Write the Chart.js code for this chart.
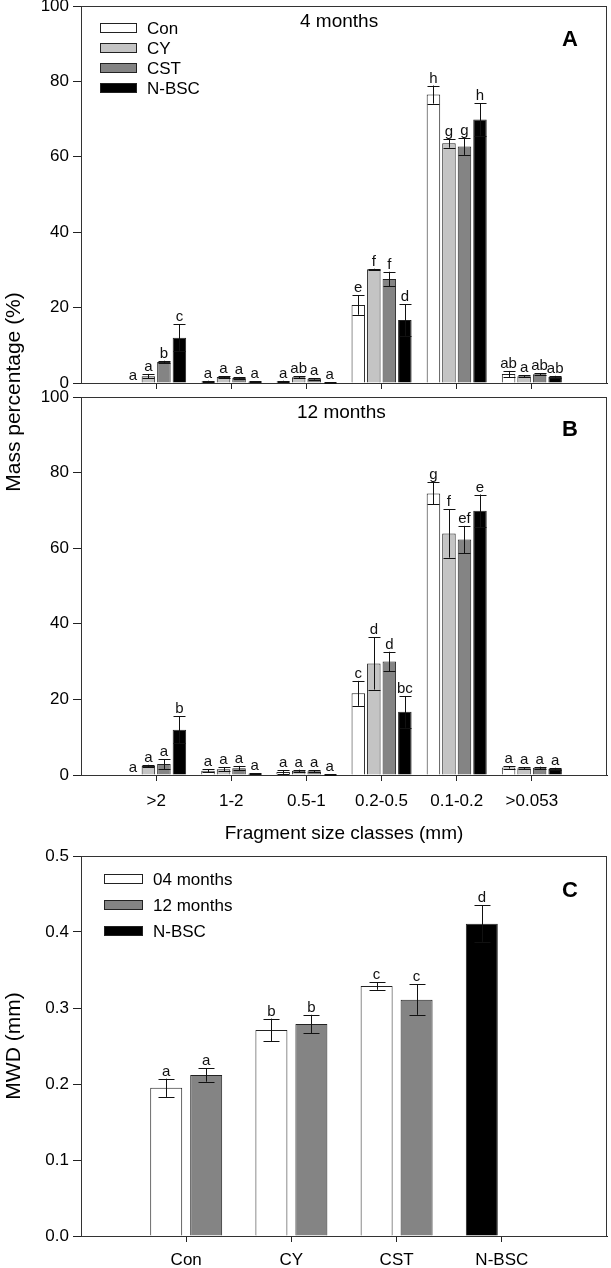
<!DOCTYPE html>
<html>
<head>
<meta charset="utf-8">
<script src="https://cdn.jsdelivr.net/npm/chart.js@4.4.0/dist/chart.umd.min.js"></script>
<style>
body { margin: 0; background: #fff; }
#wrap { position: relative; width: 611px; height: 1268px; overflow: hidden; }
canvas { position: absolute; left: 0; }
#ytitle {
    position: absolute; left: -107px; top: 380px; width: 240px; height: 24px;
    line-height: 24px; text-align: center; white-space: nowrap;
    font: 21px "Liberation Sans", Arial, sans-serif; color: #000;
    transform: rotate(-90deg);
}
</style>
</head>
<body>
<div id="wrap">
    <canvas id="chartA" width="611" height="390" style="top:0px"></canvas>
    <canvas id="chartB" width="611" height="455" style="top:390px"></canvas>
    <canvas id="chartC" width="611" height="423" style="top:845px"></canvas>
    <div id="ytitle">Mass percentage (%)</div>
</div>
<script>
var FONT = '"Liberation Sans", Arial, sans-serif';

// fragment size classes (first and last slots are empty margins)
var sizeClasses = ['', '>2', '1-2', '0.5-1', '0.2-0.5', '0.1-0.2', '>0.053', ''];

// panel A - 4 months (mass percentage, %)
var con4 = [0, 0.4, 0.4, 20.7, 76.5, 2.4];
var cy4 = [1.8, 1.6, 1.5, 30.2, 63.6, 1.8];
var cst4 = [5.6, 1.3, 1.1, 27.6, 62.7, 2.3];
var con4Err = [0, 0.2, 0.2, 2.6, 2.4, 0.8];
var cy4Err = [0.6, 0.2, 0.3, 0.1, 1.2, 0.2];
var cst4Err = [0.3, 0.3, 0.2, 1.9, 2.2, 0.3];
var con4Sig = ['a', 'a', 'a', 'e', 'h', 'ab'];
var cy4Sig = ['a', 'a', 'ab', 'f', 'g', 'a'];
var cst4Sig = ['b', 'a', 'a', 'f', 'g', 'ab'];
var nbsc4Sig = ['c', 'a', 'a', 'd', 'h', 'ab'];

// panel B - 12 months
var con12 = [0, 1.1, 0.8, 21.6, 74.5, 2.0];
var cy12 = [2.4, 1.5, 1.1, 29.5, 63.9, 1.8];
var cst12 = [2.9, 1.8, 1.0, 30.0, 62.3, 1.9];
var con12Err = [0, 0.4, 0.5, 3.3, 2.9, 0.3];
var cy12Err = [0.3, 0.5, 0.3, 6.9, 6.4, 0.2];
var cst12Err = [1.3, 0.6, 0.2, 2.6, 3.6, 0.3];
var con12Sig = ['a', 'a', 'a', 'c', 'g', 'a'];
var cy12Sig = ['a', 'a', 'a', 'd', 'f', 'a'];
var cst12Sig = ['a', 'a', 'a', 'd', 'ef', 'a'];
var nbsc12Sig = ['b', 'a', 'a', 'bc', 'e', 'a'];

// N-BSC reference (same in both panels)
var nbsc = [12.0, 0.3, 0.1, 16.7, 69.9, 1.6];
var nbscErr = [3.6, 0.1, 0.1, 4.2, 4.3, 0.3];

// panel C - mean weight diameter (mm)
var treatments = ['', 'Con', 'CY', 'CST', 'N-BSC', ''];
var mwd04 = [0.195, 0.271, 0.329];
var mwd04Err = [0.012, 0.015, 0.005];
var mwd04Sig = ['a', 'b', 'c'];
var mwd12 = [0.212, 0.279, 0.311];
var mwd12Err = [0.009, 0.012, 0.020];
var mwd12Sig = ['a', 'b', 'c'];
var mwdNbsc = 0.411;
var mwdNbscErr = 0.024;
var mwdNbscSig = 'd';

function pad(arr) {
    return [null].concat(arr, [null]);
}

// error bars, significance letters, frame, panel titles and legend
var decoPlugin = {
    id: 'deco',
    afterDatasetsDraw: function(chart, args, opts) {
        var ctx = chart.ctx;
        var area = chart.chartArea;
        var yScale = chart.scales.y;
        ctx.save();
        ctx.strokeStyle = '#333';
        ctx.lineWidth = 1;
        ctx.strokeRect(Math.round(area.left) + 0.5, Math.round(area.top) + 0.5,
            Math.round(area.right - area.left) - 1, Math.round(area.bottom - area.top));

        chart.data.datasets.forEach(function(ds, i) {
            var meta = chart.getDatasetMeta(i);
            meta.data.forEach(function(bar, j) {
                var v = ds.data[j];
                if (v === null || v === undefined) return;
                var e = ds.errs[j] || 0;
                var x = Math.round(bar.x) + 0.5;
                var yTop = yScale.getPixelForValue(v + e);
                var yBot = yScale.getPixelForValue(Math.max(v - e, 0));
                if (e > 0) {
                    ctx.strokeStyle = '#111';
                    ctx.lineWidth = 1;
                    ctx.beginPath();
                    ctx.moveTo(x, yTop); ctx.lineTo(x, yBot);
                    ctx.moveTo(x - opts.cap, Math.round(yTop) + 0.5); ctx.lineTo(x + opts.cap, Math.round(yTop) + 0.5);
                    ctx.moveTo(x - opts.cap, Math.round(yBot) + 0.5); ctx.lineTo(x + opts.cap, Math.round(yBot) + 0.5);
                    ctx.stroke();
                }
                if (ds.sig[j]) {
                    ctx.fillStyle = '#111';
                    ctx.font = opts.sigSize + 'px ' + FONT;
                    ctx.textAlign = 'center';
                    ctx.textBaseline = 'alphabetic';
                    ctx.fillText(ds.sig[j], bar.x, yTop - 3);
                }
            });
        });

        ctx.fillStyle = '#000';
        ctx.textBaseline = 'middle';
        if (opts.title) {
            ctx.font = '19px ' + FONT;
            ctx.textAlign = 'left';
            ctx.fillText(opts.title.text, opts.title.x, opts.title.y);
        }
        if (opts.tag) {
            ctx.font = 'bold 22px ' + FONT;
            ctx.textAlign = 'center';
            ctx.fillText(opts.tag.text, opts.tag.x, opts.tag.y);
        }
        if (opts.legend) {
            var lg = opts.legend;
            chart.data.datasets.forEach(function(ds, i) {
                var cy = lg.y + i * lg.dy;
                ctx.fillStyle = ds.legendColor;
                ctx.fillRect(lg.x, cy - lg.h / 2, lg.w, lg.h);
                ctx.strokeStyle = '#222';
                ctx.lineWidth = 1;
                ctx.strokeRect(lg.x + 0.5, Math.round(cy - lg.h / 2) + 0.5, lg.w - 1, lg.h - 1);
                ctx.fillStyle = '#000';
                ctx.font = '17px ' + FONT;
                ctx.textAlign = 'left';
                ctx.fillText(ds.label, lg.x + lg.w + 10, cy + 1);
            });
        }
        ctx.restore();
    }
};

function sizeDataset(label, color, values, errs, sig) {
    return {
        label: label,
        data: pad(values),
        errs: pad(errs),
        sig: pad(sig),
        legendColor: color,
        backgroundColor: color,
        borderColor: '#222',
        borderWidth: 1,
        categoryPercentage: 0.826,
        barPercentage: 0.87
    };
}

function edgeTick(ctx) {
    return (ctx.index === 0 || ctx.index === sizeClasses.length - 1) ? 'rgba(0,0,0,0)' : '#222';
}

function sizeChart(canvasId, datasets, showLabels, padTop, xHeight, deco) {
    var canvas = document.getElementById(canvasId);
    return new Chart(canvas.getContext('2d'), {
        type: 'bar',
        data: { labels: sizeClasses, datasets: datasets },
        options: {
            responsive: false,
            animation: false,
            layout: { padding: { top: padTop, right: 4, left: 0, bottom: 0 } },
            plugins: {
                legend: { display: false },
                tooltip: { enabled: false },
                deco: deco
            },
            scales: {
                x: {
                    offset: false,
                    grid: { offset: false, drawOnChartArea: false, tickLength: 6, tickColor: edgeTick },
                    border: { color: '#222' },
                    ticks: { display: showLabels, color: '#000', padding: 10, font: { size: 17, family: FONT } },
                    title: {
                        display: showLabels,
                        text: 'Fragment size classes (mm)',
                        color: '#000',
                        padding: 0,
                        font: { size: 19, family: FONT }
                    },
                    afterFit: function(s) { s.height = xHeight; s.paddingLeft = 0; s.paddingRight = 0; }
                },
                y: {
                    min: 0,
                    max: 100,
                    grid: { drawOnChartArea: false, tickLength: 8, tickColor: '#222' },
                    border: { color: '#222' },
                    ticks: { stepSize: 20, color: '#000', padding: 4, font: { size: 17, family: FONT } },
                    afterFit: function(s) { s.width = 81; s.paddingTop = 0; s.paddingBottom = 0; }
                }
            }
        },
        plugins: [decoPlugin]
    });
}

var chartA = sizeChart('chartA', [
    sizeDataset('Con', '#ffffff', con4, con4Err, con4Sig),
    sizeDataset('CY', '#c4c4c4', cy4, cy4Err, cy4Sig),
    sizeDataset('CST', '#848484', cst4, cst4Err, cst4Sig),
    sizeDataset('N-BSC', '#000000', nbsc, nbscErr, nbsc4Sig)
], false, 6, 7, {
    cap: 6, sigSize: 15,
    title: { text: '4 months', x: 300, y: 22 },
    tag: { text: 'A', x: 570, y: 40 },
    legend: { x: 100, y: 28, dy: 20, w: 37, h: 10 }
});

var chartB = sizeChart('chartB', [
    sizeDataset('Con', '#ffffff', con12, con12Err, con12Sig),
    sizeDataset('CY', '#c4c4c4', cy12, cy12Err, cy12Sig),
    sizeDataset('CST', '#848484', cst12, cst12Err, cst12Sig),
    sizeDataset('N-BSC', '#000000', nbsc, nbscErr, nbsc12Sig)
], true, 7, 70, {
    cap: 6, sigSize: 15,
    title: { text: '12 months', x: 297, y: 23 },
    tag: { text: 'B', x: 570, y: 40 }
});

function mwdDataset(label, color, stack, values, errs, sig) {
    return {
        label: label,
        stack: stack,
        data: values,
        errs: errs,
        sig: sig,
        legendColor: color,
        backgroundColor: color,
        borderColor: '#222',
        borderWidth: 1,
        categoryPercentage: 0.76,
        barPercentage: 0.8
    };
}

var chartC = new Chart(document.getElementById('chartC').getContext('2d'), {
    type: 'bar',
    data: {
        labels: treatments,
        datasets: [
            mwdDataset('04 months', '#ffffff', 'a', pad(mwd04.concat([null])), pad(mwd04Err.concat([0])), pad(mwd04Sig.concat([null]))),
            mwdDataset('12 months', '#848484', 'b', pad(mwd12.concat([null])), pad(mwd12Err.concat([0])), pad(mwd12Sig.concat([null]))),
            mwdDataset('N-BSC', '#000000', 'a', pad([null, null, null, mwdNbsc]), pad([0, 0, 0, mwdNbscErr]), pad([null, null, null, mwdNbscSig]))
        ]
    },
    options: {
        responsive: false,
        animation: false,
        layout: { padding: { top: 11, right: 4, left: 0, bottom: 0 } },
        plugins: {
            legend: { display: false },
            tooltip: { enabled: false },
            deco: {
                cap: 8, sigSize: 15,
                tag: { text: 'C', x: 570, y: 46 },
                legend: { x: 104, y: 34, dy: 26, w: 39, h: 10 }
            }
        },
        scales: {
            x: {
                stacked: true,
                offset: false,
                grid: {
                    offset: false, drawOnChartArea: false, tickLength: 6,
                    tickColor: function(ctx) { return (ctx.index === 0 || ctx.index === treatments.length - 1) ? 'rgba(0,0,0,0)' : '#222'; }
                },
                border: { color: '#222' },
                ticks: { color: '#000', padding: 8, font: { size: 17, family: FONT } },
                afterFit: function(s) { s.height = 32; s.paddingLeft = 0; s.paddingRight = 0; }
            },
            y: {
                stacked: false,
                min: 0,
                max: 0.5,
                grid: { drawOnChartArea: false, tickLength: 8, tickColor: '#222' },
                border: { color: '#222' },
                ticks: {
                    stepSize: 0.1, color: '#000', padding: 4, font: { size: 17, family: FONT },
                    callback: function(v) { return v.toFixed(1); }
                },
                title: {
                    display: true, text: 'MWD (mm)', color: '#000',
                    padding: { top: 2, bottom: 0 },
                    font: { size: 21, family: FONT }
                },
                afterFit: function(s) { s.width = 81; s.paddingTop = 0; s.paddingBottom = 0; }
            }
        }
    },
    plugins: [decoPlugin]
});
</script>
</body>
</html>
